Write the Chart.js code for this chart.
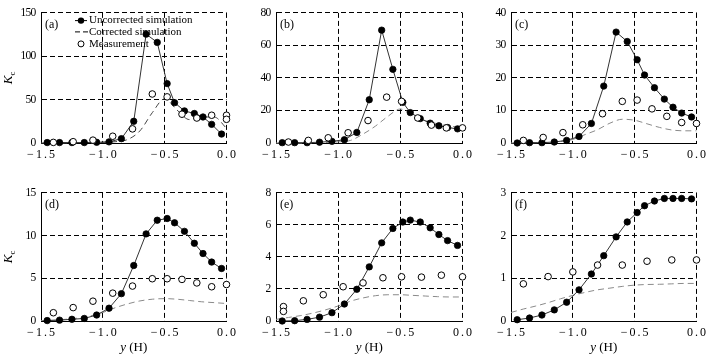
<!DOCTYPE html>
<html><head><meta charset="utf-8">
<script src="https://cdn.jsdelivr.net/npm/chart.js@4/dist/chart.umd.min.js"></script>
<style>
html,body{margin:0;padding:0;background:#fff;}
body{width:712px;height:360px;position:relative;overflow:hidden;}
canvas{position:absolute;}
</style></head><body>
<script>
// ---- data ----
const panelLabels = ['(a)','(b)','(c)','(d)','(e)','(f)'];
const seriesNames = ['Uncorrected simulation','Corrected simulation','Measurement'];
const xTicks = [-1.5, -1.0, -0.5, 0.0];
const yMaxes = [150, 80, 40, 15, 8, 3];
const ySteps = [50, 20, 10, 5, 2, 1];

const simX  = [-1.45,-1.35,-1.25,-1.15,-1.05,-0.95,-0.85,-0.75,-0.65,-0.56,-0.48,-0.42,-0.34,-0.26,-0.19,-0.12,-0.04];
const corrX = [-1.5,-1.4,-1.3,-1.2,-1.1,-1.0,-0.9,-0.8,-0.7,-0.6,-0.5,-0.4,-0.3,-0.2,-0.1,0.0];

const uncA = [0.5,0.5,0.5,0.5,0.8,1.3,5,25,125.5,116,68.5,46.5,37,34,30,21.5,10.3];
const corA = [0,0,0,0.2,0.4,0.8,1.5,4,14,35,51,38,27,30,30,17];
const measXA = [-1.40,-1.24,-1.08,-0.92,-0.76,-0.60,-0.48,-0.36,-0.24,-0.12,0.0,0.0];
const measA  = [0.7,1.5,3.3,7.8,16.3,56.5,53.2,33.2,28.8,32,32,27.3];

const uncB = [0.2,0.2,0.2,0.5,1.0,2.0,6.5,26.6,69.4,45.3,25,18.7,15,12.2,10.6,9.5,8.7];
const corB = [0,0,0,0.1,0.3,0.7,1.6,5.5,10.4,16.4,20.9,17.3,13.8,11.8,10.4,9.5];
const measXB = [-1.40,-1.24,-1.08,-0.92,-0.76,-0.61,-0.49,-0.36,-0.25,-0.13,0.0];
const measB  = [0.6,1.6,3.2,6.3,13.8,28.2,25.6,15.4,11,9.3,9.3];

const uncC = [0.0,0.1,0.1,0.3,0.8,2.0,6.0,17.5,34.1,31.2,25.6,20.9,17.0,13.5,11.0,9.2,8.0];
const corC = [0,0.05,0.1,0.2,0.5,1.1,2.6,4.1,6.1,7.3,7.0,5.9,4.8,4.0,3.75,3.75];
const measXC = [-1.40,-1.24,-1.08,-0.92,-0.76,-0.60,-0.48,-0.36,-0.24,-0.12,0.0];
const measC  = [0.8,1.7,3.2,5.6,9.0,12.8,13.2,10.5,8.2,6.3,6.0];

const uncD = [0.05,0.1,0.2,0.3,0.7,1.5,3.2,6.5,10.2,11.8,12.0,11.5,10.5,9.1,7.9,6.9,6.15];
const corD = [0.05,0.1,0.2,0.35,0.6,1.0,1.55,2.0,2.35,2.55,2.62,2.55,2.4,2.25,2.15,2.05];
const measXD = [-1.40,-1.24,-1.08,-0.92,-0.76,-0.60,-0.48,-0.36,-0.24,-0.12,0.0];
const measD  = [0.97,1.57,2.32,3.26,4.09,4.95,4.95,4.87,4.46,4.01,4.27];

const uncE = [0.0,0.02,0.1,0.24,0.52,1.06,1.98,3.38,4.88,5.78,6.18,6.3,6.18,5.82,5.4,5.02,4.72];
const corE = [0.1,0.22,0.34,0.5,0.7,0.94,1.24,1.44,1.58,1.64,1.64,1.6,1.56,1.52,1.5,1.5];
const measXE = [-1.44,-1.44,-1.28,-1.12,-0.96,-0.80,-0.64,-0.49,-0.33,-0.17,0.0];
const measE  = [0.9,0.6,1.26,1.64,2.14,2.38,2.7,2.76,2.74,2.86,2.76];

const uncF = [0.03,0.07,0.14,0.26,0.44,0.73,1.1,1.53,1.97,2.32,2.54,2.7,2.81,2.87,2.87,2.87,2.86];
const corF = [0.2,0.28,0.35,0.43,0.52,0.6,0.67,0.73,0.77,0.81,0.84,0.855,0.86,0.87,0.88,0.88];
const measXF = [-1.40,-1.20,-1.00,-0.80,-0.60,-0.40,-0.20,0.0];
const measF  = [0.87,1.04,1.15,1.31,1.31,1.40,1.43,1.43];

// ---- layout ----
const SERIF = '"Liberation Serif","Times New Roman",serif';
Chart.defaults.font.family = SERIF;
Chart.defaults.color = '#000';

const rects = [
  {l:41, t:7, r:229, b:143}, {l:276, t:7, r:465, b:143}, {l:511, t:7, r:699, b:143},
  {l:41, t:187, r:229, b:321}, {l:276, t:187, r:465, b:321}, {l:511, t:187, r:699, b:321}
];
const panels = [
  [uncA, corA, measXA, measA], [uncB, corB, measXB, measB], [uncC, corC, measXC, measC],
  [uncD, corD, measXD, measD], [uncE, corE, measXE, measE], [uncF, corF, measXF, measF]
];
const YW = 41, TP = 7, RP = 10, XH = 38;

function pts(xs, ys){ return xs.map((x,i)=>({x:x, y:ys[i]})); }
function fmtX(v){ const a = Math.abs(v).toFixed(1); return (v < -1e-9 ? '\u2212' : '') + a; }

// tick label spacing tweak (x labels are letter-spaced, y labels condensed in the original)
const spacing = {
  id: 'spacing',
  afterLayout(chart) {
    [['x', '2px', 1], ['y', '-0.8px', -0.4]].forEach(([id, ls, shift]) => {
      const s = chart.scales[id];
      if (!s || s._lsPatched) return;
      const orig = s.drawLabels;
      s.drawLabels = function(ca) {
        const ctx = this.ctx;
        ctx.save();
        ctx.letterSpacing = ls;
        if (id === 'x') ctx.translate(shift, 0); else ctx.translate(-shift, 0);
        orig.call(this, ca);
        ctx.restore();
      };
      s._lsPatched = true;
    });
  }
};

const overlay = {
  id: 'overlay',
  afterDraw(chart, args, o) {
    const ctx = chart.ctx, ca = chart.chartArea;
    ctx.save();
    ctx.letterSpacing = '0px';
    ctx.fillStyle = '#000';
    ctx.textBaseline = 'middle';
    // panel label
    ctx.font = '12px ' + SERIF;
    ctx.textAlign = 'left';
    ctx.fillText(o.label, ca.left + 4, ca.top + 12);
    // y title K_c on left column
    if (o.yTitle) {
      ctx.save();
      ctx.translate(ca.left - 32, (ca.top + ca.bottom) / 2);
      ctx.rotate(-Math.PI / 2);
      ctx.font = 'italic 13px ' + SERIF;
      const wK = ctx.measureText('K').width;
      ctx.font = '9px ' + SERIF;
      const wc = ctx.measureText('c').width;
      const x0 = -(wK + wc) / 2;
      ctx.font = 'italic 13px ' + SERIF;
      ctx.textAlign = 'left';
      ctx.fillText('K', x0, 0);
      ctx.font = '9px ' + SERIF;
      ctx.fillText('c', x0 + wK, 4);
      ctx.restore();
    }
    // x title on bottom row
    if (o.xTitle) {
      ctx.font = 'italic 13px ' + SERIF;
      const wy = ctx.measureText('y').width;
      ctx.font = '13px ' + SERIF;
      const wr = ctx.measureText(' (H)').width;
      const x0 = (ca.left + ca.right) / 2 - (wy + wr) / 2;
      const yy = ca.bottom + 27;
      ctx.textAlign = 'left';
      ctx.font = 'italic 13px ' + SERIF;
      ctx.fillText('y', x0, yy);
      ctx.font = '13px ' + SERIF;
      ctx.fillText(' (H)', x0 + wy, yy);
    }
    // legend in panel (a)
    if (o.legend) {
      const lx0 = ca.left + 34, lx1 = ca.left + 46, tx = ca.left + 48;
      const rows = [ca.top + 7.7, ca.top + 19, ca.top + 31];
      ctx.font = '11px ' + SERIF;
      ctx.textAlign = 'left';
      ctx.strokeStyle = '#000'; ctx.lineWidth = 1;
      ctx.beginPath(); ctx.moveTo(lx0, rows[0]); ctx.lineTo(lx1, rows[0]); ctx.stroke();
      ctx.beginPath(); ctx.arc((lx0+lx1)/2, rows[0], 3.2, 0, Math.PI*2); ctx.fill();
      ctx.fillText(seriesNames[0], tx, rows[0]);
      ctx.setLineDash([5,3]);
      ctx.beginPath(); ctx.moveTo(lx0, rows[1]); ctx.lineTo(lx1 + 1, rows[1]); ctx.stroke();
      ctx.setLineDash([]);
      ctx.fillText(seriesNames[1], tx, rows[1]);
      ctx.fillStyle = '#fff';
      ctx.beginPath(); ctx.arc((lx0+lx1)/2, rows[2], 3, 0, Math.PI*2); ctx.fill(); ctx.stroke();
      ctx.fillStyle = '#000';
      ctx.fillText(seriesNames[2], tx, rows[2]);
    }
    ctx.restore();
  }
};

panels.forEach((p, i) => {
  const r = rects[i];
  const cv = document.createElement('canvas');
  const w = r.r - r.l + YW + RP, h = r.b - r.t + TP + XH;
  cv.width = w; cv.height = h;
  cv.style.left = (r.l - YW) + 'px';
  cv.style.top = (r.t - TP) + 'px';
  cv.style.width = w + 'px'; cv.style.height = h + 'px';
  document.body.appendChild(cv);
  const [unc, cor, mx, my] = p;
  new Chart(cv, {
    type: 'scatter',
    data: {
      datasets: [
        { label: seriesNames[2], data: pts(mx, my), showLine: false,
          pointRadius: 3.3, pointBorderWidth: 1, pointBackgroundColor: '#fff',
          pointBorderColor: '#000', clip: false },
        { label: seriesNames[0], data: pts(simX, unc), showLine: true,
          borderColor: '#333', borderWidth: 1, pointRadius: 3.2, pointBorderWidth: 0.8,
          pointBackgroundColor: '#000', pointBorderColor: '#000', tension: 0, clip: false },
        { label: seriesNames[1], data: pts(corrX, cor), showLine: true,
          borderColor: i === 0 ? '#444' : '#8a8a8a', borderWidth: 1, borderDash: [6,4],
          pointRadius: 0, cubicInterpolationMode: 'monotone', clip: false }
      ]
    },
    options: {
      responsive: false, maintainAspectRatio: false, animation: false,
      devicePixelRatio: 1,
      events: [],
      layout: { padding: { left: 0, top: TP, right: RP, bottom: 0 }, autoPadding: false },
      plugins: {
        legend: { display: false }, tooltip: { enabled: false },
        overlay: { label: panelLabels[i], yTitle: i % 3 === 0, xTitle: i >= 3, legend: i === 0 }
      },
      scales: {
        x: {
          type: 'linear', min: -1.5, max: 0,
          afterFit: s => { s.height = XH; },
          afterBuildTicks: s => { s.ticks = xTicks.map(v => ({ value: v })); },
          ticks: { callback: v => fmtX(v), font: { size: 12, family: SERIF }, color: '#000', padding: 5, maxRotation: 0 },
          grid: { color: '#000', lineWidth: 1, drawTicks: false },
          border: { display: true, color: '#000', width: 1, dash: [5,3] }
        },
        y: {
          type: 'linear', min: 0, max: yMaxes[i],
          afterFit: s => { s.width = YW; },
          ticks: { stepSize: ySteps[i], font: { size: 11.5, family: SERIF }, color: '#000', padding: 6 },
          grid: { color: '#000', lineWidth: 1, drawTicks: false },
          border: { display: true, color: '#000', width: 1, dash: [5,3] }
        }
      }
    },
    plugins: [spacing, overlay]
  });
});
</script>
</body></html>
